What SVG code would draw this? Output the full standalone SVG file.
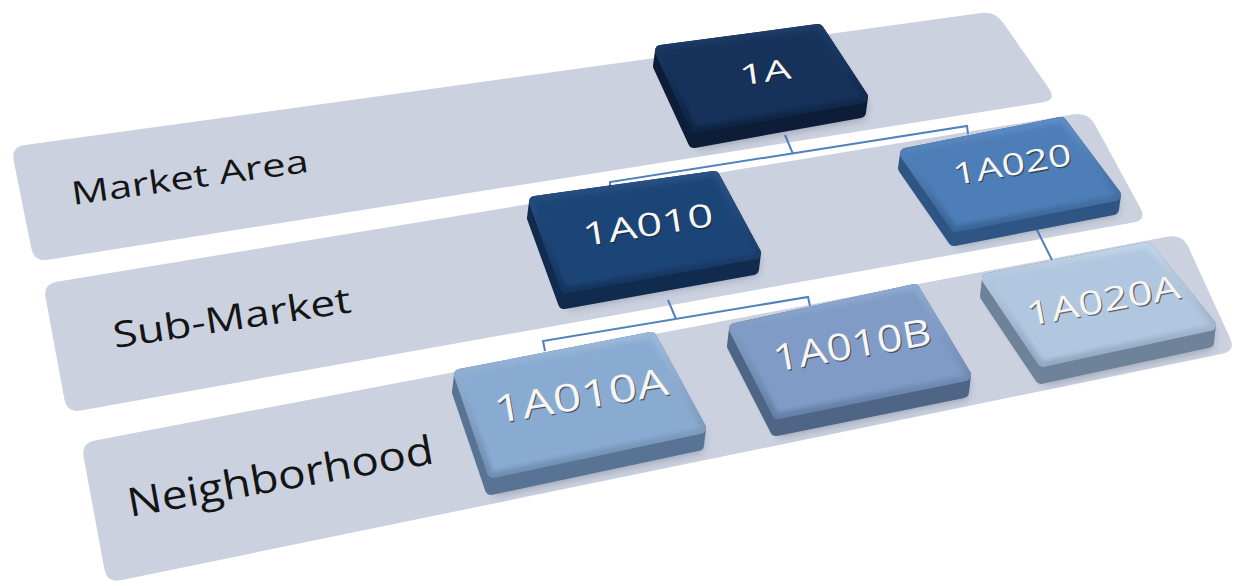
<svg xmlns="http://www.w3.org/2000/svg" width="1238" height="586" viewBox="0 0 1238 586">
<style>
.band{fill:#cbd1df}
.lbl{font-family:"Open Sans","Noto Sans",sans-serif;fill:#141414}
.side,.rim{stroke-width:12;stroke-linejoin:round}
.shadow{fill:#1c2a40;opacity:.28;filter:url(#blur4)}
.face{filter:url(#soft)}
.t{font-family:"Open Sans","Noto Sans",sans-serif;text-anchor:middle}
.ts{fill:#1a1a1a;opacity:.55}
.tw{fill:#f6f6f6}
.conn path{fill:none;stroke:#4f81bd;stroke-width:2}
</style>
<defs>
<filter id="blur4" x="-20%" y="-20%" width="140%" height="140%"><feGaussianBlur stdDeviation="4"/></filter>
<filter id="soft" x="-10%" y="-10%" width="120%" height="120%"><feGaussianBlur stdDeviation="2"/></filter>
<linearGradient id="r1" x1="0" y1="0" x2="0" y2="1"><stop offset="0" stop-color="#1e3d69"/><stop offset="1" stop-color="#0f2444"/></linearGradient>
<linearGradient id="r2" x1="0" y1="0" x2="0" y2="1"><stop offset="0" stop-color="#2a5186"/><stop offset="1" stop-color="#153660"/></linearGradient>
<linearGradient id="r3" x1="0" y1="0" x2="0" y2="1"><stop offset="0" stop-color="#5c8cc4"/><stop offset="1" stop-color="#3b6699"/></linearGradient>
<linearGradient id="r4" x1="0" y1="0" x2="0" y2="1"><stop offset="0" stop-color="#9ab8da"/><stop offset="1" stop-color="#6f8fb3"/></linearGradient>
<linearGradient id="r5" x1="0" y1="0" x2="0" y2="1"><stop offset="0" stop-color="#8ea9d1"/><stop offset="1" stop-color="#6680a8"/></linearGradient>
<linearGradient id="r6" x1="0" y1="0" x2="0" y2="1"><stop offset="0" stop-color="#c0d3e8"/><stop offset="1" stop-color="#93a9c2"/></linearGradient>
</defs>

<g id="band-market-area">
<path class="band" d="M24.9,145.1 L981.1,12.9 Q995,11 1003,22.5 L1049,88.5 Q1057,100 1043.2,102.2 L47.8,259.8 Q34,262 31.3,248.3 L13.7,160.7 Q11,147 24.9,145.1 Z"/>
<text class="lbl" x="73" y="205" font-size="32" textLength="239" lengthAdjust="spacingAndGlyphs" transform="rotate(-8 73 205)">Market Area</text>
</g>
<g id="band-sub-market">
<path class="band" d="M56.8,281.7 L1074.2,114.3 Q1088,112 1094.7,124.3 L1140.3,207.7 Q1147,220 1133.2,222.5 L80.8,410.5 Q67,413 64.4,399.2 L45.6,297.8 Q43,284 56.8,281.7 Z"/>
<text class="lbl" x="115" y="348" font-size="36" textLength="240" lengthAdjust="spacingAndGlyphs" transform="rotate(-8.6 115 348)">Sub-Market</text>
</g>
<g id="band-neighborhood">
<path class="band" d="M94.8,440.4 L1168.2,236.6 Q1182,234 1188.2,246.6 L1230,338 Q1236,351 1222.3,353.8 L120.7,580.2 Q107,583 104.4,569.2 L83.6,456.8 Q81,443 94.8,440.4 Z"/>
<text class="lbl" x="130" y="517" font-size="40" textLength="310" lengthAdjust="spacingAndGlyphs" transform="rotate(-10 130 517)">Neighborhood</text>
</g>

<g id="connectors" class="conn">
<path d="M785,135 L793,154"/>
<path d="M610,187 L610,182 L967,126 L968,134"/>
<path d="M668,300 L676,319"/>
<path d="M545,351 L543,341 L808,297 L810,306"/>
<path d="M1036,228 L1052,260"/>
</g>

<g id="node-1A">
<polygon class="shadow" points="664,56 821,35 867,104 865,119 699,149 664,73"/>
<polygon class="side" fill="#0d1d38" stroke="#0d1d38" points="661,51 818,30 862,97 860,112 694,142 659,66"/>
<polygon class="rim" fill="url(#r1)" stroke="url(#r1)" points="661,51 818,30 862,97 696,127"/>
<polygon class="face" fill="#17325a" points="661,51 818,30 862,97 696,127"/>
<text class="t ts" x="766" y="83.5" font-size="28" textLength="52" lengthAdjust="spacingAndGlyphs" transform="rotate(-8 765 72)">1A</text>
<text class="t tw" x="765" y="82" font-size="28" textLength="52" lengthAdjust="spacingAndGlyphs" transform="rotate(-8 765 72)">1A</text>
</g>

<g id="node-1A010">
<polygon class="shadow" points="539,208 718,183 760,259 758,275 569,309 538,224"/>
<polygon class="side" fill="#112b4f" stroke="#112b4f" points="535,202 714,177 755,253 753,269 564,303 533,218"/>
<polygon class="rim" fill="url(#r2)" stroke="url(#r2)" points="535,202 714,177 755,253 566,287"/>
<polygon class="face" fill="#1f4577" points="535,202 714,177 755,253 566,287"/>
<text class="t ts" x="649" y="237.5" font-size="32" textLength="132" lengthAdjust="spacingAndGlyphs" transform="rotate(-9 648 225)">1A010</text>
<text class="t tw" x="648" y="236" font-size="32" textLength="132" lengthAdjust="spacingAndGlyphs" transform="rotate(-9 648 225)">1A010</text>
</g>

<g id="node-1A020">
<polygon class="shadow" points="910,160 1065,129 1119,201 1117,215 958,246 908,174"/>
<polygon class="side" fill="#2f5584" stroke="#2f5584" points="906,154 1061,123 1115,195 1113,209 954,240 904,168"/>
<polygon class="rim" fill="url(#r3)" stroke="url(#r3)" points="906,154 1061,123 1115,195 956,226"/>
<polygon class="face" fill="#4e7eb7" points="906,154 1061,123 1115,195 956,226"/>
<text class="t ts" x="1013" y="176.5" font-size="30" textLength="120" lengthAdjust="spacingAndGlyphs" transform="rotate(-10 1012 164)">1A020</text>
<text class="t tw" x="1012" y="175" font-size="30" textLength="120" lengthAdjust="spacingAndGlyphs" transform="rotate(-10 1012 164)">1A020</text>
</g>

<g id="node-1A010A">
<polygon class="shadow" points="464,382 655,345 704,435 702,452 495,496 462,399"/>
<polygon class="side" fill="#587393" stroke="#587393" points="460,375 651,338 700,428 698,445 491,489 458,392"/>
<polygon class="rim" fill="url(#r4)" stroke="url(#r4)" points="460,375 651,338 700,428 493,472"/>
<polygon class="face" fill="#8aabd1" points="460,375 651,338 700,428 493,472"/>
<text class="t ts" x="582" y="410.5" font-size="38" textLength="176" lengthAdjust="spacingAndGlyphs" transform="rotate(-9.5 581 396)">1A010A</text>
<text class="t tw" x="581" y="409" font-size="38" textLength="176" lengthAdjust="spacingAndGlyphs" transform="rotate(-9.5 581 396)">1A010A</text>
</g>

<g id="node-1A010B">
<polygon class="shadow" points="739,336 918,297 969,382 967,399 780,437 737,353"/>
<polygon class="side" fill="#4e6586" stroke="#4e6586" points="735,329 914,290 965,375 963,392 776,430 733,346"/>
<polygon class="rim" fill="url(#r5)" stroke="url(#r5)" points="735,329 914,290 965,375 778,413"/>
<polygon class="face" fill="#7f9bc6" points="735,329 914,290 965,375 778,413"/>
<text class="t ts" x="853" y="359.5" font-size="37" textLength="160" lengthAdjust="spacingAndGlyphs" transform="rotate(-10 852 345)">1A010B</text>
<text class="t tw" x="852" y="358" font-size="37" textLength="160" lengthAdjust="spacingAndGlyphs" transform="rotate(-10 852 345)">1A010B</text>
</g>

<g id="node-1A020A">
<polygon class="shadow" points="992,286 1151,255 1214,332 1212,349 1045,385 990,303"/>
<polygon class="side" fill="#6e8299" stroke="#6e8299" points="988,279 1147,248 1210,325 1208,342 1041,378 986,296"/>
<polygon class="rim" fill="url(#r6)" stroke="url(#r6)" points="988,279 1147,248 1210,325 1043,361"/>
<polygon class="face" fill="#b1c7df" points="988,279 1147,248 1210,325 1043,361"/>
<text class="t ts" x="1104" y="313.5" font-size="33" textLength="156" lengthAdjust="spacingAndGlyphs" transform="rotate(-10.5 1103 300)">1A020A</text>
<text class="t tw" x="1103" y="312" font-size="33" textLength="156" lengthAdjust="spacingAndGlyphs" transform="rotate(-10.5 1103 300)">1A020A</text>
</g>
</svg>
